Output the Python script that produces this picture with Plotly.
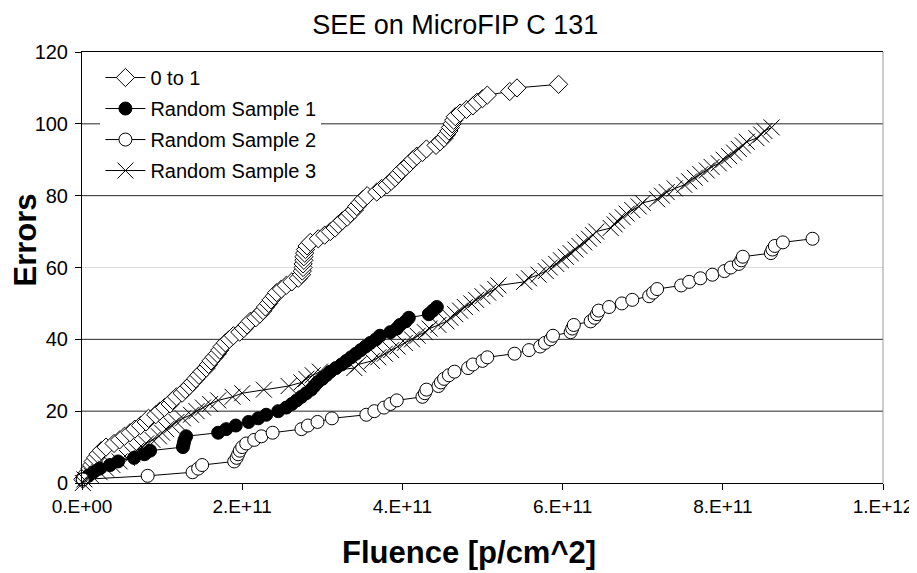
import plotly.graph_objects as go

# Fluence values in units of 1E+11 p/cm^2, errors are cumulative counts
fluence_0to1 = [0.01, 0.04, 0.07, 0.10, 0.12, 0.14, 0.17, 0.20, 0.24, 0.30,
                0.40, 0.47, 0.53, 0.60, 0.66, 0.73, 0.80, 0.83, 0.92, 0.97,
                1.03, 1.10, 1.13, 1.18, 1.25, 1.29, 1.34, 1.38, 1.42, 1.46,
                1.50, 1.55, 1.58, 1.61, 1.65, 1.69, 1.72, 1.75, 1.79, 1.84,
                1.89, 1.97, 2.02, 2.06, 2.10, 2.17, 2.22, 2.26, 2.29, 2.33,
                2.36, 2.40, 2.43, 2.49, 2.55, 2.62, 2.70, 2.74, 2.75, 2.76,
                2.76, 2.77, 2.77, 2.78, 2.79, 2.81, 2.85, 2.95, 3.03, 3.10,
                3.16, 3.20, 3.25, 3.31, 3.35, 3.40, 3.43, 3.47, 3.51, 3.56,
                3.68, 3.74, 3.81, 3.86, 3.91, 3.95, 3.99, 4.04, 4.09, 4.13,
                4.18, 4.25, 4.30, 4.42, 4.47, 4.52, 4.55, 4.58, 4.60, 4.62,
                4.64, 4.66, 4.72, 4.80, 4.88, 4.93, 5.00, 5.06, 5.34, 5.43,
                5.95]
errors_0to1 = [1, 2, 3, 4, 5, 6, 7, 8, 9, 10,
               11, 12, 13, 14, 15, 16, 17, 18, 19, 20,
               21, 22, 23, 24, 25, 26, 27, 28, 29, 30,
               31, 32, 33, 34, 35, 36, 37, 38, 39, 40,
               41, 42, 43, 44, 45, 46, 47, 48, 49, 50,
               51, 52, 53, 54, 55, 56, 57, 58, 59, 60,
               61, 62, 63, 64, 65, 66, 67, 68, 69, 70,
               71, 72, 73, 74, 75, 76, 77, 78, 79, 80,
               81, 82, 83, 84, 85, 86, 87, 88, 89, 90,
               91, 92, 93, 94, 95, 96, 97, 98, 99, 100,
               101, 102, 103, 104, 105, 106, 107, 108, 109, 110,
               111]

fluence_rs1 = [0.01, 0.08, 0.14, 0.22, 0.35, 0.45, 0.65, 0.78, 0.85, 1.26,
               1.27, 1.28, 1.30, 1.70, 1.80, 1.92, 2.08, 2.20, 2.30, 2.45,
               2.55, 2.62, 2.68, 2.74, 2.80, 2.86, 2.90, 2.94, 3.00, 3.05,
               3.10, 3.17, 3.24, 3.30, 3.36, 3.42, 3.48, 3.54, 3.60, 3.67,
               3.72, 3.85, 3.93, 3.97, 4.04, 4.08, 4.33, 4.38, 4.43]
errors_rs1 = [1, 2, 3, 4, 5, 6, 7, 8, 9, 10,
              11, 12, 13, 14, 15, 16, 17, 18, 19, 20,
              21, 22, 23, 24, 25, 26, 27, 28, 29, 30,
              31, 32, 33, 34, 35, 36, 37, 38, 39, 40,
              41, 42, 43, 44, 45, 46, 47, 48, 49]

fluence_rs2 = [0.01, 0.82, 1.38, 1.45, 1.50, 1.90, 1.93, 1.95, 1.97, 2.00,
               2.05, 2.15, 2.24, 2.38, 2.74, 2.82, 2.94, 3.12, 3.55, 3.65,
               3.77, 3.85, 3.93, 4.25, 4.28, 4.30, 4.45, 4.48, 4.52, 4.58,
               4.65, 4.82, 4.88, 5.00, 5.06, 5.40, 5.58, 5.72, 5.78, 5.85,
               5.88, 6.10, 6.12, 6.14, 6.35, 6.40, 6.43, 6.45, 6.58, 6.74,
               6.87, 7.08, 7.13, 7.18, 7.48, 7.58, 7.72, 7.87, 8.02, 8.10,
               8.20, 8.23, 8.25, 8.60, 8.62, 8.65, 8.75, 9.12]
errors_rs2 = [1, 2, 3, 4, 5, 6, 7, 8, 9, 10,
              11, 12, 13, 14, 15, 16, 17, 18, 19, 20,
              21, 22, 23, 24, 25, 26, 27, 28, 29, 30,
              31, 32, 33, 34, 35, 36, 37, 38, 39, 40,
              41, 42, 43, 44, 45, 46, 47, 48, 49, 50,
              51, 52, 53, 54, 55, 56, 57, 58, 59, 60,
              61, 62, 63, 64, 65, 66, 67, 68]

fluence_rs3 = [0.01, 0.03, 0.12, 0.22, 0.30, 0.38, 0.47, 0.56, 0.63, 0.68,
               0.75, 0.80, 0.88, 0.96, 1.00, 1.05, 1.12, 1.18, 1.26, 1.36,
               1.43, 1.51, 1.60, 1.70, 1.88, 2.00, 2.27, 2.58, 2.74, 2.80,
               2.88, 2.97, 3.40, 3.45, 3.62, 3.70, 3.78, 3.86, 3.94, 4.03,
               4.12, 4.19, 4.28, 4.34, 4.45, 4.55, 4.60, 4.66, 4.72, 4.78,
               4.86, 4.92, 5.00, 5.07, 5.16, 5.20, 5.52, 5.58, 5.70, 5.79,
               5.84, 5.92, 5.98, 6.04, 6.10, 6.16, 6.21, 6.27, 6.33, 6.38,
               6.42, 6.60, 6.65, 6.68, 6.75, 6.80, 6.87, 6.95, 7.00, 7.18,
               7.24, 7.30, 7.40, 7.52, 7.58, 7.65, 7.72, 7.80, 7.86, 7.95,
               8.01, 8.08, 8.14, 8.20, 8.25, 8.30, 8.42, 8.48, 8.52, 8.61]
errors_rs3 = [0, 1, 2, 3, 4, 5, 6, 7, 8, 9,
              10, 11, 12, 13, 14, 15, 16, 17, 18, 19,
              20, 21, 22, 23, 24, 25, 26, 27, 28, 29,
              30, 31, 32, 33, 34, 35, 36, 37, 38, 39,
              40, 41, 42, 43, 44, 45, 46, 47, 48, 49,
              50, 51, 52, 53, 54, 55, 56, 57, 58, 59,
              60, 61, 62, 63, 64, 65, 66, 67, 68, 69,
              70, 71, 72, 73, 74, 75, 76, 77, 78, 79,
              80, 81, 82, 83, 84, 85, 86, 87, 88, 89,
              90, 91, 92, 93, 94, 95, 96, 97, 98, 99]

x_tick_vals = [0, 2, 4, 6, 8, 10]
x_tick_text = ["0.E+00", "2.E+11", "4.E+11", "6.E+11", "8.E+11", "1.E+12"]
y_tick_vals = [0, 20, 40, 60, 80, 100, 120]

FONT = "Liberation Sans, Arial, sans-serif"

fig = go.Figure()
line_style = dict(color="black", width=1)

fig.add_trace(go.Scatter(
    x=fluence_0to1, y=errors_0to1, name="0 to 1", mode="lines+markers",
    line=line_style, legendgroup="a",
    marker=dict(symbol="diamond", size=14, color="white",
                line=dict(color="black", width=1)),
    cliponaxis=False))
fig.add_trace(go.Scatter(
    x=fluence_rs1, y=errors_rs1, name="Random Sample 1", mode="lines+markers",
    line=line_style, legendgroup="b",
    marker=dict(symbol="circle", size=13, color="black",
                line=dict(color="black", width=1)),
    cliponaxis=False))
fig.add_trace(go.Scatter(
    x=fluence_rs2, y=errors_rs2, name="Random Sample 2", mode="lines+markers",
    line=line_style, legendgroup="c",
    marker=dict(symbol="circle", size=13, color="white",
                line=dict(color="black", width=1)),
    cliponaxis=False))
fig.add_trace(go.Scatter(
    x=fluence_rs3, y=errors_rs3, name="Random Sample 3", mode="lines+markers",
    line=line_style, legendgroup="d",
    marker=dict(symbol="x-thin", size=16, color="black",
                line=dict(color="black", width=1)),
    cliponaxis=False))

# horizontal gridlines (the 60 line is faint in the original)
grid_shapes = []
for v in y_tick_vals[1:-1]:
    grid_shapes.append(dict(type="line", xref="paper", yref="y", x0=0, x1=1,
                            y0=v, y1=v, layer="below",
                            line=dict(color="#dddddd" if v == 60 else "#262626",
                                      width=1)))
grid_shapes.append(dict(type="line", xref="paper", yref="paper", x0=1, x1=1,
                        y0=0, y1=1, line=dict(color="#999999", width=1)))

# The page body adds an 8px offset; figure is sized/margined to compensate.
fig.update_layout(
    width=909, height=565,
    paper_bgcolor="white", plot_bgcolor="white",
    margin=dict(l=74, r=34, t=44, b=90),
    font=dict(family=FONT, color="black"),
    title=dict(text="SEE on MicroFIP C 131", x=0.492, xanchor="center",
               y=0.971, yanchor="middle",
               font=dict(size=27, family=FONT, color="black")),
    xaxis=dict(range=[0, 10], tickvals=x_tick_vals, ticktext=x_tick_text,
               showgrid=False, zeroline=False, automargin=False,
               showline=True, linecolor="black", linewidth=1, mirror=True,
               ticks="outside", ticklen=6, tickcolor="black",
               tickfont=dict(size=19, family=FONT)),
    yaxis=dict(range=[0, 120], tickvals=y_tick_vals,
               showgrid=False, zeroline=False, automargin=False,
               showline=True, linecolor="black", linewidth=1,
               ticks="outside", ticklen=6, tickcolor="black",
               ticklabelstandoff=3,
               tickfont=dict(size=20, family=FONT)),
    legend=dict(x=0.023, y=0.986, xanchor="left", yanchor="top",
                bgcolor="white", borderwidth=0,
                font=dict(size=20, family=FONT),
                tracegroupgap=2, itemwidth=40),
    annotations=[
        dict(text="<b>Errors</b>", xref="paper", yref="paper",
             x=-0.0705, y=0.564, xanchor="center", yanchor="middle",
             textangle=-90, showarrow=False,
             font=dict(size=31, family=FONT, color="black")),
        dict(text="<b>Fluence [p/cm^2]</b>", xref="paper", yref="paper",
             x=0.483, y=-0.162, xanchor="center", yanchor="middle",
             showarrow=False,
             font=dict(size=31, family=FONT, color="black")),
    ],
    shapes=grid_shapes,
)

fig.write_html("out.html")
